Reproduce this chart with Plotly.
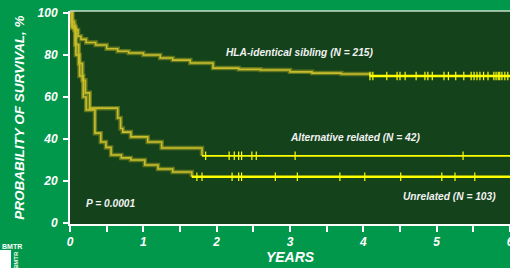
import plotly.graph_objects as go

# Kaplan-Meier style step data (years, survival %)
hla_t = [0, 0.02, 0.06, 0.11, 0.15, 0.22, 0.35, 0.50, 0.65, 0.80, 1.00, 1.23, 1.40, 1.64, 1.95, 2.30, 2.60, 3.00, 3.30, 3.70, 4.09]
hla_s = [100, 96, 92, 89, 87.5, 86, 84.8, 83, 81.8, 81, 80, 78.6, 77.6, 76.2, 73.8, 73.2, 72.9, 72, 71.4, 71, 70]
hla_cens = [4.09, 4.13, 4.32, 4.46, 4.50, 4.57, 4.72, 4.84, 4.88, 4.94, 5.10, 5.16, 5.26, 5.37, 5.47, 5.51, 5.55, 5.59, 5.64, 5.70, 5.78, 5.81, 5.84, 5.86, 5.89, 5.93, 5.97]

alt_t = [0, 0.03, 0.07, 0.12, 0.17, 0.21, 0.27, 0.63, 0.65, 0.69, 0.72, 0.83, 1.06, 1.25, 1.80]
alt_s = [100, 94, 85, 76, 68, 62, 54.7, 54.7, 50, 45, 43.3, 41, 38.6, 35.7, 32]
alt_cens = [1.85, 2.17, 2.24, 2.30, 2.34, 2.48, 2.54, 3.07, 5.36]

unr_t = [0, 0.03, 0.08, 0.13, 0.18, 0.22, 0.34, 0.42, 0.49, 0.56, 0.70, 0.83, 1.02, 1.20, 1.40, 1.66]
unr_s = [100, 93, 80, 70, 60, 53.8, 42.8, 38.6, 36, 32.4, 31, 30, 27.6, 25.7, 24.3, 22]
unr_cens = [1.73, 1.80, 2.21, 2.30, 2.34, 2.80, 3.10, 3.68, 4.02, 4.51, 5.07, 5.25, 5.52]

x_end = 6.0
tick_vals_y = [0, 20, 40, 60, 80, 100]
tick_vals_x = [0, 1, 2, 3, 4, 5, 6]

labels = [
    ("HLA-identical sibling (N = 215)", 3.14, 81),
    ("Alternative related (N = 42)", 3.89, 40.5),
    ("Unrelated (N = 103)", 5.18, 12.8),
    ("P = 0.0001", 0.56, 9.5),
]

fig = go.Figure()

curve_glow = "rgba(190,180,30,0.45)"
curve_core = "rgb(200,190,45)"
flat_col = "#ffff00"

for t, s, cens, w in [(hla_t, hla_s, hla_cens, 2.6), (alt_t, alt_s, alt_cens, 1.8), (unr_t, unr_s, unr_cens, 2.6)]:
    fig.add_trace(go.Scatter(x=t, y=s, mode="lines", line=dict(color=curve_glow, width=4.5, shape="hv"),
                             hoverinfo="skip", showlegend=False))
    fig.add_trace(go.Scatter(x=t, y=s, mode="lines", line=dict(color=curve_core, width=1.6, shape="hv"),
                             hoverinfo="skip", showlegend=False))
    fig.add_trace(go.Scatter(x=[t[-1], x_end], y=[s[-1], s[-1]], mode="lines",
                             line=dict(color=flat_col, width=w), showlegend=False, hoverinfo="skip"))
    fig.add_trace(go.Scatter(x=cens, y=[s[-1]] * len(cens), mode="markers",
                             marker=dict(symbol="line-ns-open", size=6, color=flat_col,
                                         line=dict(color=flat_col, width=1.2)),
                             showlegend=False, hoverinfo="skip"))

font_fam = "Arial, 'Liberation Sans', sans-serif"
for txt, x, y in labels:
    fig.add_annotation(x=x, y=y, text="<b><i>%s</i></b>" % txt, showarrow=False,
                       font=dict(family=font_fam, size=10.2, color="#f2f2f2"), xanchor="center", yanchor="middle")

# logo
fig.add_shape(type="rect", xref="paper", yref="paper", x0=-70/440, x1=-59/440, y0=-44/213, y1=-26/213,
              fillcolor="white", line=dict(width=0))
fig.add_annotation(xref="paper", yref="paper", x=-70/440, y=-22/213, text="<b>BMTR</b>", showarrow=False,
                   xanchor="left", yanchor="middle", font=dict(family=font_fam, size=7, color="white"))
fig.add_annotation(xref="paper", yref="paper", x=-54/440, y=-36/213, text="<b>BMTR</b>", showarrow=False,
                   textangle=-90, xanchor="center", yanchor="middle", font=dict(family=font_fam, size=6, color="white"))

fig.update_layout(
    width=510, height=268,
    margin=dict(l=70, r=0, t=11, b=44),
    paper_bgcolor="#01984b",
    plot_bgcolor="#13421b",
    font=dict(family=font_fam, color="white"),
    xaxis=dict(range=[0, 6], tickvals=tick_vals_x, ticktext=["<b><i>%d</i></b>" % v for v in tick_vals_x],
               automargin=False, ticklabeloverflow="allow",
               showgrid=False, zeroline=False, showline=True, linecolor="white", linewidth=2,
               mirror=False, ticks="outside", ticklen=6, tickwidth=1.5, tickcolor="white",
               minor=dict(dtick=0.5, ticks="outside", ticklen=6, tickwidth=1.5, tickcolor="white", showgrid=False),
               tickfont=dict(size=12, color="white"),
               title=dict(text="<b><i>YEARS</i></b>", font=dict(size=14, color="white"), standoff=4)),
    yaxis=dict(range=[-0.5, 101], tickvals=tick_vals_y, ticktext=["<b><i>%d</i></b>" % v for v in tick_vals_y],
               automargin=False, ticklabelstandoff=3,
               showgrid=False, zeroline=False, showline=True, linecolor="white", linewidth=2,
               ticks="outside", ticklen=5, tickwidth=1.5, tickcolor="white",
               tickfont=dict(size=12, color="white"),
               title=dict(text="<b><i>PROBABILITY OF SURVIVAL, %</i></b>", font=dict(size=13.5, color="white"), standoff=10)),
)
fig.add_shape(type="line", xref="paper", yref="paper", x0=0, x1=1, y0=1, y1=1,
              line=dict(color="#c8dcc8", width=1.5))

fig.write_html("out.html", config={"displayModeBar": False},
               post_script="document.body.style.margin='0';document.body.style.overflow='hidden';")
